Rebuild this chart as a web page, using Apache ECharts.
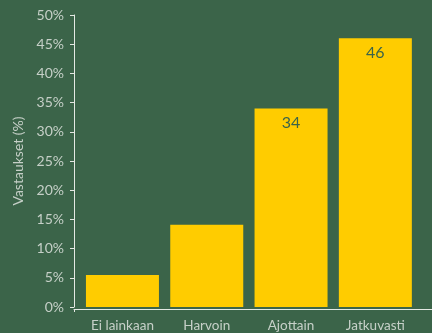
<!DOCTYPE html>
<html>
<head>
<meta charset="utf-8">
<script src="https://cdn.jsdelivr.net/npm/echarts@6/dist/echarts.min.js"></script>
<style>
  html, body { margin: 0; padding: 0; background: #3b6449; }
  #chart { width: 432px; height: 333px; }
</style>
</head>
<body>
<div id="chart"></div>
<script>
// Survey answers: how often (share of respondents, %)
const categories = ['Ei lainkaan', 'Harvoin', 'Ajottain', 'Jatkuvasti'];
const shares = [5.5, 14.1, 34, 46];
// Only these bars carry a value label
const labelled = [false, false, true, true];

const BG = '#3b6449';
const BAR = '#ffcc00';
const AXIS = '#e4e9e4';
const TEXT = '#c6d0c8';
const FONT = 'Lato';

const chart = echarts.init(document.getElementById('chart'), null, { renderer: 'canvas' });

chart.setOption({
  backgroundColor: BG,
  animation: false,
  grid: [
    { left: 80.3, right: 14.5, top: 15, bottom: 24 },
    // full-width baseline grid
    { left: 74, right: -2, top: 15, bottom: 24 }
  ],
  xAxis: [
    {
      type: 'category',
      gridIndex: 0,
      data: categories,
      axisLine: { show: false },
      axisTick: { show: false },
      axisLabel: { color: TEXT, fontFamily: FONT, fontSize: 13.5, margin: 12 }
    },
    {
      type: 'value',
      gridIndex: 1,
      min: 0, max: 1, interval: 1,
      axisLine: { show: true, lineStyle: { color: AXIS, width: 1 } },
      axisTick: { show: true, length: 3, lineStyle: { color: AXIS } },
      axisLabel: { show: false },
      splitLine: { show: false }
    }
  ],
  yAxis: [
    {
      type: 'value',
      gridIndex: 0,
      min: 0, max: 50, interval: 5,
      offset: 6.3,
      name: 'Vastaukset (%)',
      nameLocation: 'middle',
      nameGap: 45,
      nameTextStyle: { color: TEXT, fontFamily: FONT, fontSize: 14 },
      axisLine: { show: true, lineStyle: { color: AXIS, width: 1 } },
      axisTick: { show: true, length: 4, lineStyle: { color: AXIS } },
      axisLabel: { color: TEXT, fontFamily: FONT, fontSize: 14, margin: 10, formatter: '{value}%' },
      splitLine: { show: false }
    },
    { type: 'value', gridIndex: 1, show: false, min: 0, max: 1 }
  ],
  series: [
    {
      type: 'bar',
      xAxisIndex: 0,
      yAxisIndex: 0,
      barWidth: 73,
      data: shares.map((v, i) => ({
        value: v,
        label: {
          show: labelled[i],
          position: 'insideTop',
          distance: 6,
          color: BG,
          fontFamily: FONT,
          fontSize: 16,
          formatter: '{c}'
        }
      })),
      itemStyle: { color: BAR }
    }
  ]
});
</script>
</body>
</html>
